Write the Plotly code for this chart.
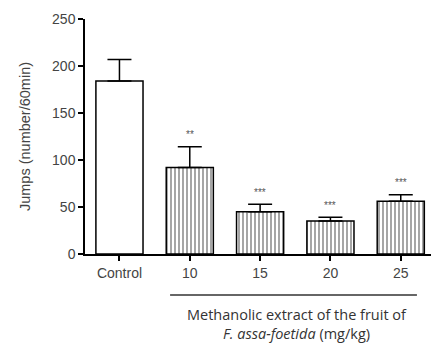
import plotly.graph_objects as go

categories = ["Control", "10", "15", "20", "25"]
means = [184, 92, 45, 35, 56]
sem = [23, 22, 8, 4, 7]
stars = ["", "**", "***", "***", "***"]
y_title = "Jumps (number/60min)"
group_label = "Methanolic extract of the fruit of<br><i>F. assa-foetida</i> (mg/kg)"

xs = list(range(len(categories)))

fig = go.Figure()
# Control bar (white)
fig.add_trace(go.Bar(
    x=[xs[0]], y=[means[0]], width=0.67,
    marker=dict(color="white", line=dict(color="black", width=1.5)),
    error_y=dict(type="data", symmetric=False, array=[sem[0]], arrayminus=[0],
                 color="black", thickness=1.5, width=12),
    showlegend=False,
))
# Treated bars (vertical hatch)
fig.add_trace(go.Bar(
    x=xs[1:], y=means[1:], width=0.67,
    marker=dict(color="white", line=dict(color="black", width=1.5),
                pattern=dict(shape="|", fgcolor="black", bgcolor="white", size=4, solidity=0.35)),
    error_y=dict(type="data", symmetric=False, array=sem[1:], arrayminus=[0] * 4,
                 color="black", thickness=1.5, width=12),
    showlegend=False,
))

annotations = []
for i, (m, s, st) in enumerate(zip(means, sem, stars)):
    if st:
        annotations.append(dict(x=xs[i], y=m + s, text=st, showarrow=False,
                                yshift=12, font=dict(size=10, color="#555", family="Liberation Sans")))

annotations.append(dict(x=2.53, y=-0.297, xref="x", yref="paper", yanchor="middle",
                        text=group_label, showarrow=False, align="center",
                        font=dict(size=14.5, color="#333", family="Open Sans")))

fig.update_layout(
    width=433, height=346,
    margin=dict(l=85, r=2, t=19, b=92),
    plot_bgcolor="white", paper_bgcolor="white",
    annotations=annotations,
    shapes=[dict(type="line", xref="x", yref="paper", x0=0.72, x1=4.23, y0=-0.174, y1=-0.174,
                 line=dict(color="#333", width=1.5))],
    font=dict(family="Liberation Sans", color="#444", size=14),
)
fig.update_xaxes(
    range=[-0.49, 4.43], tickmode="array", tickvals=xs, ticktext=categories,
    showline=True, linecolor="black", linewidth=1.5, ticks="outside", ticklen=5,
    tickcolor="black", tickwidth=1.5, showgrid=False, zeroline=False,
    tickfont=dict(size=14, color="#444"),
)
fig.update_yaxes(
    range=[0, 250], tickvals=[0, 50, 100, 150, 200, 250],
    showline=True, linecolor="black", linewidth=1.5, ticks="outside", ticklen=5,
    tickcolor="black", tickwidth=1.5, showgrid=False, zeroline=False,
    title=dict(text=y_title, font=dict(size=14.5, color="#444"), standoff=18),
    tickfont=dict(size=14, color="#444"),
)

fig.write_html("out.html")
